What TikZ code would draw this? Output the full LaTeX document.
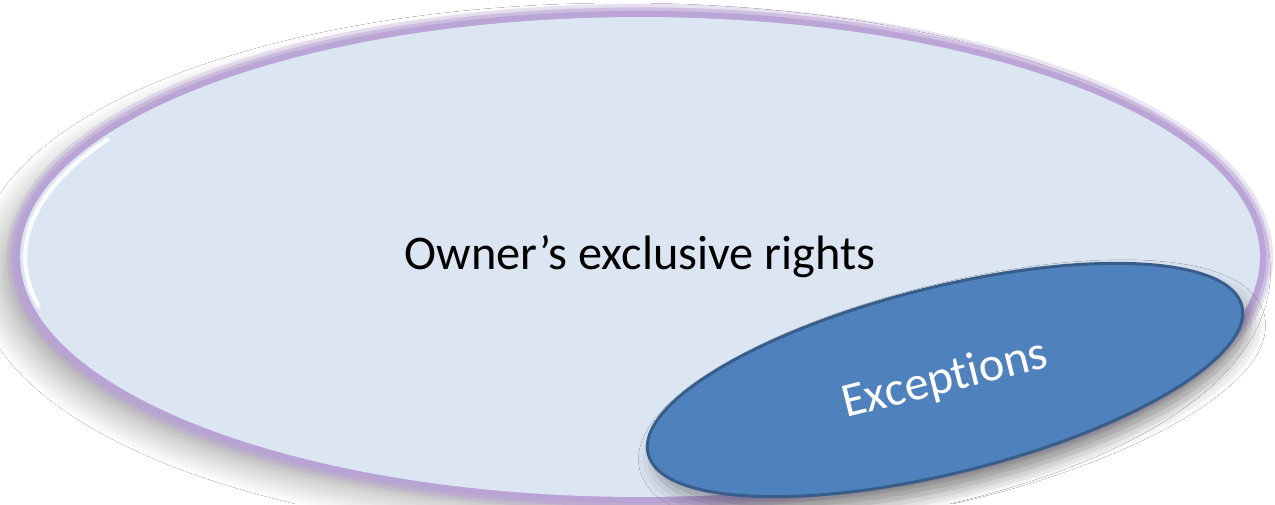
\documentclass[tikz,border=0pt]{standalone}
\usepackage{fontspec}
\setmainfont{Carlito}[Ligatures={NoCommon,NoContextual}, Contextuals=NoAlternate]
\usetikzlibrary{shapes,positioning,shadows.blur}
\definecolor{rightsfill}{HTML}{DCE6F2}
\definecolor{glowpurple}{HTML}{B9A3D6}
\definecolor{excfill}{HTML}{4F81BD}
\definecolor{excline}{HTML}{385D8A}

\begin{document}
\begin{tikzpicture}[x=0.02cm, y=-0.02cm,
        bigoval/.style={ellipse, fill=rightsfill, inner sep=0pt, minimum width=24.8cm, minimum height=9.6cm},
        glow/.style={draw=glowpurple, opacity=#1},
        excbox/.style={ellipse, fill=excfill, draw=excline, line width=1.7pt, inner sep=0pt,
            minimum width=12.24cm, minimum height=3.72cm, text=white, font=\fontsize{27.5}{33}\selectfont,
            blur shadow={shadow xshift=4pt, shadow yshift=-7pt, shadow blur radius=9pt, shadow opacity=35}}]

    \useasboundingbox[fill=white] (0,0) rectangle (1275,504);

    \node[bigoval, blur shadow={shadow xshift=-10pt, shadow yshift=-8pt, shadow blur radius=16pt,
        shadow opacity=38, shadow blur steps=14}] (shade) at (640,257) {};
    % soft purple glow round the big ellipse
    \foreach \w/\o in {15pt/0.3, 11pt/0.5, 7pt/0.9}{
        \draw[glow=\o, line width=\w] (shade.center) ellipse[x radius=12.4cm, y radius=4.8cm];
    }
    \node[bigoval, font=\fontsize{27.5}{33}\selectfont] (rights) at (shade.center) {Owner’s exclusive rights};
    % bevel highlight on the left edge
    \begin{scope}[shift={(rights.center)}]
        \draw[white, line width=2.4pt, opacity=0.85, line cap=round] (150:12.3cm and 4.7cm) arc[start angle=150, end angle=192, x radius=12.3cm, y radius=4.7cm];
    \end{scope}

    \node[excbox, rotate=14] (exceptions) at (945,380) {Excep\kern0pt tions};

\end{tikzpicture}
\end{document}
